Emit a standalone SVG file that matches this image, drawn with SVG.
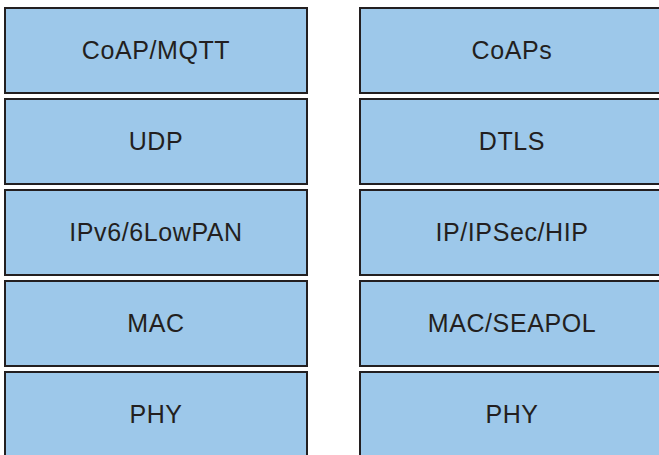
<svg xmlns="http://www.w3.org/2000/svg" width="659" height="455" viewBox="0 0 659 455">
<style>
.b{fill:#9DC8EA;stroke:#231F20;stroke-width:2}
.t{font-family:"Liberation Sans",Arial,sans-serif;font-size:25px;letter-spacing:0.6px;fill:#231F20;text-anchor:middle}
</style>
<rect width="659" height="455" fill="#fff"/>
<g id="l1"><rect class="b" x="5" y="8" width="302" height="85"/><text class="t" x="156" y="59">CoAP/MQTT</text></g>
<g id="l2"><rect class="b" x="5" y="99" width="302" height="85"/><text class="t" x="156" y="150">UDP</text></g>
<g id="l3"><rect class="b" x="5" y="190" width="302" height="85"/><text class="t" x="156" y="241">IPv6/6LowPAN</text></g>
<g id="l4"><rect class="b" x="5" y="281" width="302" height="85"/><text class="t" x="156" y="332">MAC</text></g>
<g id="l5"><rect class="b" x="5" y="372" width="302" height="85"/><text class="t" x="156" y="423">PHY</text></g>
<g id="r1"><rect class="b" x="360" y="8" width="305" height="85"/><text class="t" x="512" y="59">CoAPs</text></g>
<g id="r2"><rect class="b" x="360" y="99" width="305" height="85"/><text class="t" x="512" y="150">DTLS</text></g>
<g id="r3"><rect class="b" x="360" y="190" width="305" height="85"/><text class="t" x="512" y="241">IP/IPSec/HIP</text></g>
<g id="r4"><rect class="b" x="360" y="281" width="305" height="85"/><text class="t" x="512" y="332">MAC/SEAPOL</text></g>
<g id="r5"><rect class="b" x="360" y="372" width="305" height="85"/><text class="t" x="512" y="423">PHY</text></g>
<g id="connectors"></g>
</svg>
